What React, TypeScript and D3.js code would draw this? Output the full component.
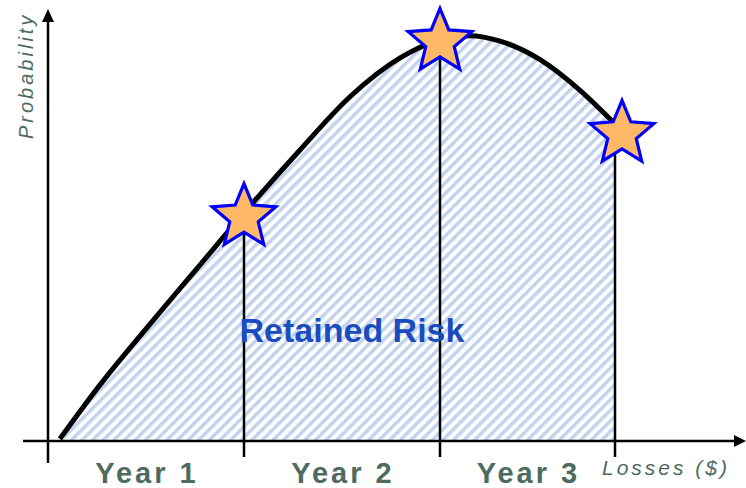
import React from "react";
import * as d3 from "d3";

const lossValues = [1.7, 7.4, 14.6, 21.7, 28, 36, 43.1, 50.3, 56, 60.3, 64.6, 70.3, 76, 81, 84.1];
const probValues = [0.005, 0.133, 0.279, 0.419, 0.543, 0.693, 0.819, 0.912, 0.955, 0.965, 0.952, 0.908, 0.835, 0.755, 0.702];
const yearBounds = [0, 28, 56, 81];
const yearLabels = ["Year 1", "Year 2", "Year 3"];
const starLoss = [28, 56, 82];
const starProb = [0.533, 0.95, 0.731];
const retainedLabel = "Retained Risk";
const xAxisLabel = "Losses ($)";
const yAxisLabel = "Probability";

const W = 746;
const H = 488;

function starPath(cx: number, cy: number, R: number, r: number) {
  const pts: [number, number][] = [];
  for (let i = 0; i < 10; i++) {
    const rad = i % 2 === 0 ? R : r;
    const a = -Math.PI / 2 + (i * Math.PI) / 5;
    pts.push([cx + rad * Math.cos(a), cy + rad * Math.sin(a)]);
  }
  return "M" + pts.map((p) => p.join(",")).join("L") + "Z";
}

export default function App() {
  const x = d3.scaleLinear().domain([0, 100]).range([48, 748]);
  const y = d3.scaleLinear().domain([0, 1]).range([441, 21]);
  const data = lossValues.map((l, i) => ({ l, p: probValues[i] }));
  const line = d3
    .line<{ l: number; p: number }>()
    .x((d) => x(d.l))
    .y((d) => y(d.p))
    .curve(d3.curveMonotoneX);
  const area = d3
    .area<{ l: number; p: number }>()
    .x((d) => x(d.l))
    .y0(y(0))
    .y1((d) => y(d.p))
    .curve(d3.curveMonotoneX);
  const lastBound = yearBounds[yearBounds.length - 1];
  const labelColor = "#4d6b5f";

  return (
    <svg
      width={W}
      height={H}
      style={{ position: "absolute", left: 0, top: 0, background: "#fff" }}
    >
      <defs>
        <pattern
          id="hatch"
          patternUnits="userSpaceOnUse"
          width={7.5}
          height={7.5}
          patternTransform="rotate(45)"
        >
          <rect width={7.5} height={7.5} fill="#ffffff" />
          <rect x={0} y={0} width={3.5} height={7.5} fill="#c3d3ee" />
        </pattern>
        <clipPath id="fillClip">
          <rect x={0} y={0} width={x(lastBound)} height={H} />
        </clipPath>
      </defs>

      <path d={area(data) || ""} fill="url(#hatch)" clipPath="url(#fillClip)" />

      {/* axes */}
      <line x1={23} y1={y(0)} x2={736} y2={y(0)} stroke="#000" strokeWidth={2.5} />
      <polygon points={`746,${y(0)} 734,${y(0) - 6} 734,${y(0) + 6}`} fill="#000" />
      <line x1={x(0)} y1={463} x2={x(0)} y2={20} stroke="#000" strokeWidth={2.5} />
      <polygon points={`${x(0)},9 ${x(0) - 6},22 ${x(0) + 6},22`} fill="#000" />

      {/* year boundary lines */}
      {yearBounds.slice(1).map((b, i) => (
        <line
          key={"b" + i}
          x1={x(b)}
          x2={x(b)}
          y1={457}
          y2={y(starProb[i])}
          stroke="#000"
          strokeWidth={2.5}
        />
      ))}

      <path d={line(data) || ""} fill="none" stroke="#000" strokeWidth={5} />

      {starLoss.map((l, i) => (
        <path
          key={"s" + i}
          d={starPath(x(l), y(starProb[i]), 33.5, 15)}
          fill="#ffb866"
          stroke="#0000ff"
          strokeWidth={3.2}
          strokeLinejoin="miter"
        />
      ))}

      <text
        x={352}
        y={342}
        textAnchor="middle"
        fontFamily="'Liberation Sans', Arial, sans-serif"
        fontWeight="bold"
        fontSize={34}
        fill="#1a4bbf"
      >
        {retainedLabel}
      </text>

      {yearLabels.map((t, i) => (
        <text
          key={"y" + i}
          x={x((yearBounds[i] + yearBounds[i + 1]) / 2) + 1}
          y={483}
          textAnchor="middle"
          fontFamily="'Liberation Sans', Arial, sans-serif"
          fontWeight="bold"
          fontSize={29}
          letterSpacing={3}
          fill={labelColor}
        >
          {t}
        </text>
      ))}

      <text
        x={602}
        y={475}
        fontFamily="'Liberation Sans', Arial, sans-serif"
        fontStyle="italic"
        fontSize={21}
        letterSpacing={3}
        fill={labelColor}
      >
        {xAxisLabel}
      </text>

      <text
        transform="translate(33,139) rotate(-90)"
        x={0}
        y={0}
        fontFamily="'Liberation Sans', Arial, sans-serif"
        fontStyle="italic"
        fontSize={20}
        letterSpacing={3}
        fill={labelColor}
      >
        {yAxisLabel}
      </text>
    </svg>
  );
}
